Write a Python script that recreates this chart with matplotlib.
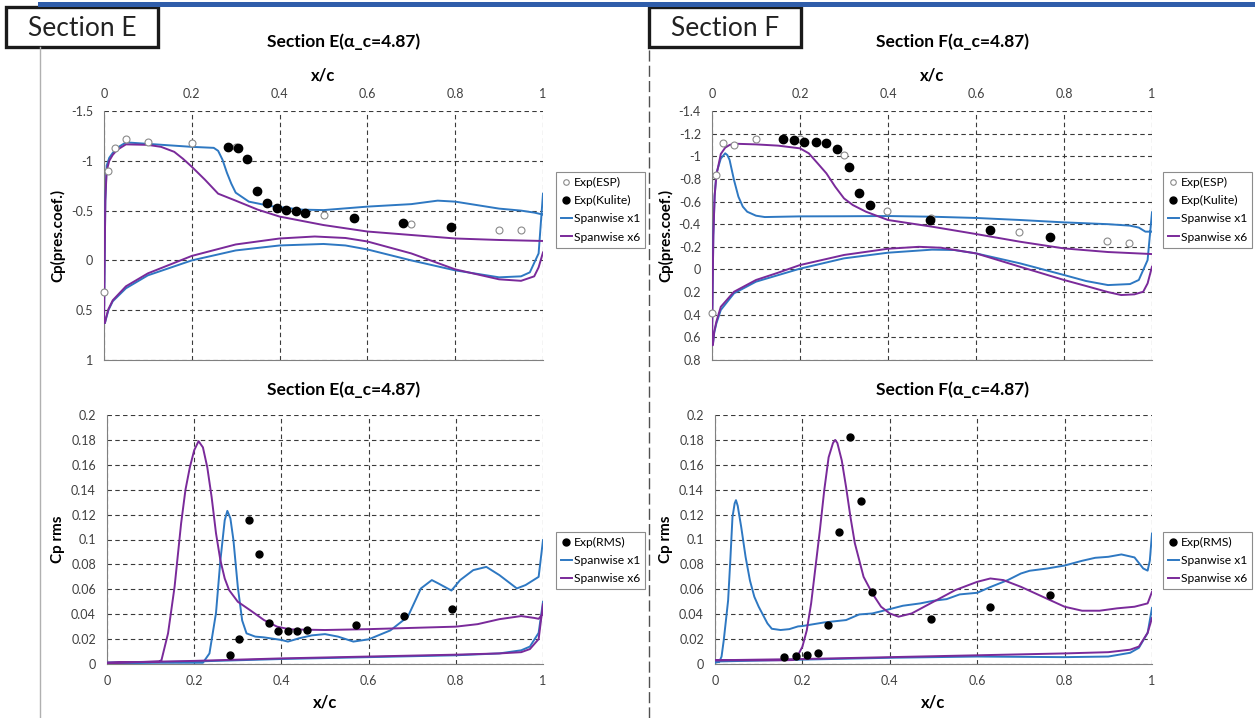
import numpy as np
import matplotlib
matplotlib.use("Agg")
import matplotlib.pyplot as plt
from matplotlib.patches import Rectangle
from matplotlib.lines import Line2D

plt.rcParams['font.family'] = ['Lato', 'DejaVu Sans']

# ---------------- Section E : mean Cp ----------------
esp_x_E = [0, 0.01, 0.025, 0.049, 0.1, 0.2, 0.3, 0.5, 0.7, 0.9, 0.95]
esp_cp_E = [0.32, -0.90, -1.13, -1.215, -1.19, -1.175, -1.14, -0.46, -0.37, -0.31, -0.305]
kul_x_E = [0.2825, 0.3045, 0.3265, 0.3485, 0.3705, 0.393, 0.4146, 0.4366, 0.4586, 0.570, 0.681, 0.791]
kul_cp_E = [-1.14, -1.13, -1.015, -0.70, -0.573, -0.53, -0.506, -0.496, -0.479, -0.426, -0.379, -0.332]

x1_up_x_E = [0, 0.001, 0.003, 0.006, 0.012, 0.02, 0.03, 0.05, 0.1, 0.15, 0.2, 0.25, 0.26, 0.27,
             0.28, 0.29, 0.30, 0.33, 0.38, 0.45, 0.5, 0.6, 0.7, 0.76, 0.8, 0.9, 0.95, 0.98, 1.0]
x1_up_cp_E = [0.62, 0.2, -0.6, -0.95, -1.03, -1.08, -1.13, -1.185, -1.17, -1.155, -1.14, -1.13, -1.1, -1.01,
              -0.88, -0.77, -0.68, -0.59, -0.545, -0.51, -0.505, -0.54, -0.565, -0.6, -0.59, -0.52, -0.5, -0.48, -0.46]
x1_lo_x_E = [0, 0.002, 0.005, 0.01, 0.02, 0.05, 0.1, 0.2, 0.3, 0.4, 0.5, 0.55, 0.6, 0.7, 0.8, 0.9,
             0.95, 0.97, 0.99, 1.0]
x1_lo_cp_E = [0.62, 0.63, 0.58, 0.5, 0.41, 0.28, 0.15, 0.0, -0.10, -0.15, -0.165, -0.15, -0.11, 0.0,
              0.10, 0.17, 0.16, 0.12, -0.07, -0.67]
x6_up_x_E = [0, 0.001, 0.003, 0.006, 0.012, 0.02, 0.03, 0.05, 0.1, 0.13, 0.16, 0.18, 0.2, 0.23, 0.26,
             0.3, 0.35, 0.4, 0.5, 0.6, 0.7, 0.8, 0.9, 1.0]
x6_up_cp_E = [0.62, 0.2, -0.6, -0.9, -1.0, -1.06, -1.11, -1.165, -1.16, -1.14, -1.09, -1.02, -0.94, -0.81,
              -0.67, -0.6, -0.51, -0.44, -0.355, -0.29, -0.255, -0.22, -0.205, -0.195]
x6_lo_x_E = [0, 0.002, 0.005, 0.01, 0.02, 0.05, 0.1, 0.2, 0.3, 0.4, 0.48, 0.55, 0.6, 0.7, 0.8, 0.9,
             0.95, 0.98, 0.99, 1.0]
x6_lo_cp_E = [0.62, 0.63, 0.57, 0.49, 0.40, 0.26, 0.13, -0.045, -0.16, -0.22, -0.24, -0.225, -0.19,
              -0.07, 0.09, 0.19, 0.205, 0.16, 0.07, -0.08]

# ---------------- Section F : mean Cp ----------------
esp_x_F = [0, 0.0098, 0.025, 0.05, 0.099, 0.199, 0.299, 0.398, 0.4985, 0.698, 0.898, 0.948]
esp_cp_F = [0.388, -0.834, -1.12, -1.097, -1.153, -1.15, -1.008, -0.516, -0.457, -0.33, -0.251, -0.234]
kul_x_F = [0.161, 0.186, 0.21, 0.2356, 0.26, 0.285, 0.3106, 0.335, 0.3591, 0.4955, 0.632, 0.768]
kul_cp_F = [-1.15, -1.14, -1.126, -1.123, -1.114, -1.061, -0.902, -0.675, -0.569, -0.437, -0.351, -0.287]

x1_up_x_F = [0, 0.001, 0.003, 0.006, 0.01, 0.02, 0.03, 0.035, 0.04, 0.05, 0.06, 0.07, 0.08, 0.1, 0.12,
             0.2, 0.3, 0.4, 0.5, 0.6, 0.7, 0.8, 0.9, 0.95, 0.97, 0.985, 1.0]
x1_up_cp_F = [0.65, 0.3, -0.3, -0.65, -0.85, -0.98, -1.026, -1.01, -0.967, -0.79, -0.643, -0.555, -0.51,
              -0.475, -0.463, -0.469, -0.47, -0.472, -0.466, -0.455, -0.437, -0.416, -0.4, -0.387, -0.37,
              -0.334, -0.334]
x1_lo_x_F = [0, 0.002, 0.005, 0.01, 0.02, 0.05, 0.1, 0.2, 0.3, 0.4, 0.5, 0.55, 0.6, 0.7, 0.8, 0.85,
             0.9, 0.95, 0.97, 0.99, 1.0]
x1_lo_cp_F = [0.65, 0.66, 0.56, 0.476, 0.358, 0.211, 0.108, -0.007, -0.098, -0.148, -0.175, -0.172,
              -0.142, -0.054, 0.049, 0.102, 0.138, 0.129, 0.093, -0.083, -0.505]
x6_up_x_F = [0, 0.001, 0.003, 0.006, 0.01, 0.02, 0.03, 0.04, 0.05, 0.1, 0.15, 0.2, 0.22, 0.24, 0.26,
             0.28, 0.3, 0.32, 0.35, 0.4, 0.5, 0.6, 0.7, 0.8, 0.9, 1.0]
x6_up_cp_F = [0.66, 0.3, -0.3, -0.65, -0.834, -1.02, -1.076, -1.1, -1.111, -1.105, -1.094, -1.07,
              -1.026, -0.938, -0.849, -0.731, -0.628, -0.569, -0.51, -0.437, -0.378, -0.313, -0.245,
              -0.186, -0.154, -0.136]
x6_lo_x_F = [0, 0.002, 0.005, 0.01, 0.02, 0.05, 0.1, 0.15, 0.2, 0.3, 0.4, 0.47, 0.52, 0.6, 0.7, 0.8,
             0.85, 0.9, 0.93, 0.96, 0.98, 0.99, 1.0]
x6_lo_cp_F = [0.66, 0.67, 0.55, 0.46, 0.33, 0.197, 0.093, 0.029, -0.039, -0.128, -0.183, -0.2, -0.192,
              -0.142, -0.024, 0.093, 0.146, 0.2, 0.226, 0.22, 0.197, 0.123, -0.024]

# ---------------- Section E : Cp rms ----------------
rms_x_E = [0.282, 0.303, 0.326, 0.348, 0.3705, 0.392, 0.414, 0.436, 0.458, 0.571, 0.681, 0.791]
rms_E = [0.0070, 0.020, 0.1155, 0.0885, 0.0326, 0.0265, 0.0265, 0.0267, 0.0275, 0.031, 0.0385, 0.0439]

r1_up_x_E = [0, 0.1, 0.2, 0.22, 0.235, 0.25, 0.26, 0.27, 0.276, 0.283, 0.29, 0.30, 0.31, 0.32, 0.34,
             0.36, 0.4, 0.415, 0.44, 0.47, 0.5, 0.53, 0.565, 0.6, 0.65, 0.69, 0.72, 0.745, 0.76, 0.79,
             0.81, 0.84, 0.87, 0.9, 0.94, 0.96, 0.99, 1.0]
r1_up_E = [0.001, 0.001, 0.001, 0.001, 0.0085, 0.041, 0.083, 0.1155, 0.123, 0.117, 0.0995, 0.062,
           0.035, 0.0246, 0.022, 0.0214, 0.0193, 0.018, 0.0206, 0.023, 0.024, 0.022, 0.018, 0.0198,
           0.027, 0.038, 0.0607, 0.0674, 0.0647, 0.059, 0.0674, 0.0754, 0.078, 0.0714, 0.0607, 0.0634,
           0.07, 0.0995]
r1_lo_x_E = [0, 0.2, 0.4, 0.6, 0.8, 0.9, 0.95, 0.97, 0.99, 1.0]
r1_lo_E = [0.001, 0.002, 0.004, 0.0055, 0.007, 0.0085, 0.011, 0.014, 0.025, 0.05]
r6_up_x_E = [0, 0.12, 0.125, 0.14, 0.155, 0.17, 0.18, 0.19, 0.2, 0.21, 0.22, 0.23, 0.24, 0.25, 0.26,
             0.27, 0.28, 0.3, 0.33, 0.36, 0.39, 0.42, 0.5, 0.6, 0.7, 0.8, 0.85, 0.9, 0.95, 0.98, 0.99, 1.0]
r6_up_E = [0.001, 0.002, 0.0032, 0.0246, 0.062, 0.113, 0.14, 0.158, 0.1717, 0.179, 0.174, 0.158,
           0.134, 0.105, 0.0834, 0.0687, 0.0594, 0.05, 0.0428, 0.0353, 0.03, 0.0278, 0.0273, 0.028,
           0.029, 0.030, 0.032, 0.036, 0.0385, 0.037, 0.0363, 0.0406]
r6_lo_x_E = [0, 0.2, 0.4, 0.6, 0.8, 0.9, 0.95, 0.97, 0.99, 1.0]
r6_lo_E = [0.001, 0.0025, 0.0045, 0.006, 0.0075, 0.0085, 0.0095, 0.012, 0.02, 0.048]

# ---------------- Section F : Cp rms ----------------
rms_x_F = [0.159, 0.185, 0.21, 0.235, 0.259, 0.2845, 0.309, 0.334, 0.3585, 0.494, 0.63, 0.767]
rms_F = [0.0059, 0.0064, 0.007, 0.0088, 0.031, 0.1064, 0.1824, 0.131, 0.0578, 0.0364, 0.0457, 0.0551]

r1_up_x_F = [0, 0.01, 0.015, 0.02, 0.03, 0.035, 0.04, 0.045, 0.048, 0.052, 0.06, 0.07, 0.08, 0.09,
             0.1, 0.12, 0.13, 0.15, 0.17, 0.19, 0.2, 0.25, 0.3, 0.33, 0.36, 0.4, 0.43, 0.47, 0.5, 0.53,
             0.56, 0.6, 0.63, 0.67, 0.7, 0.72, 0.76, 0.8, 0.84, 0.87, 0.9, 0.93, 0.96, 0.98, 0.99,
             0.995, 1.0]
r1_up_F = [0.001, 0.0019, 0.006, 0.019, 0.051, 0.083, 0.118, 0.129, 0.1316, 0.127, 0.11, 0.086, 0.067,
           0.054, 0.046, 0.0326, 0.0283, 0.0273, 0.028, 0.0302, 0.0305, 0.0334, 0.0353, 0.0398, 0.0406,
           0.0441, 0.0468, 0.0487, 0.0508, 0.0521, 0.0559, 0.0572, 0.0618, 0.0674, 0.0727, 0.0749,
           0.0767, 0.0791, 0.0829, 0.0853, 0.0861, 0.088, 0.0856, 0.0767, 0.075, 0.083, 0.1048]
r1_lo_x_F = [0, 0.2, 0.4, 0.6, 0.8, 0.9, 0.95, 0.97, 0.99, 1.0]
r1_lo_F = [0.002, 0.0035, 0.005, 0.006, 0.0055, 0.006, 0.009, 0.013, 0.025, 0.045]
r6_up_x_F = [0, 0.16, 0.18, 0.19, 0.2, 0.21, 0.22, 0.23, 0.24, 0.25, 0.26, 0.27, 0.275, 0.28, 0.29,
             0.3, 0.31, 0.32, 0.34, 0.36, 0.38, 0.4, 0.42, 0.45, 0.5, 0.55, 0.6, 0.63, 0.66, 0.7, 0.75,
             0.8, 0.84, 0.88, 0.92, 0.96, 0.99, 1.0]
r6_up_F = [0.003, 0.003, 0.0032, 0.0072, 0.0139, 0.027, 0.0487, 0.078, 0.1075, 0.1396, 0.166, 0.1775,
           0.18, 0.1775, 0.1636, 0.142, 0.118, 0.097, 0.07, 0.0567, 0.046, 0.0406, 0.038, 0.0406, 0.05,
           0.0594, 0.066, 0.0687, 0.0674, 0.062, 0.054, 0.046, 0.0428, 0.0428, 0.0447, 0.046, 0.0487,
           0.058]
r6_lo_x_F = [0, 0.2, 0.4, 0.6, 0.8, 0.9, 0.95, 0.97, 0.99, 1.0]
r6_lo_F = [0.003, 0.004, 0.0055, 0.007, 0.0085, 0.0095, 0.0115, 0.014, 0.025, 0.037]

x_ticks = [0, 0.2, 0.4, 0.6, 0.8, 1.0]
cp_ticks_E = [-1.5, -1, -0.5, 0, 0.5, 1]
cp_ticks_F = [-1.4, -1.2, -1, -0.8, -0.6, -0.4, -0.2, 0, 0.2, 0.4, 0.6, 0.8]
rms_ticks = [0, 0.02, 0.04, 0.06, 0.08, 0.1, 0.12, 0.14, 0.16, 0.18, 0.2]

BLUE = '#2E78C2'
PURPLE = '#7A2A9A'
W, H = 1255, 718


def fmt(v):
    return f"{v:g}"


def px_axes(fig, x0, y0, x1, y1):
    return fig.add_axes([x0 / W, 1 - y1 / H, (x1 - x0) / W, (y1 - y0) / H])


def style(ax, yticks, top):
    ax.set_xlim(0, 1)
    ax.set_xticks(x_ticks)
    ax.set_xticklabels([fmt(t) for t in x_ticks])
    ax.set_yticks(yticks)
    ax.set_yticklabels([fmt(t) for t in yticks])
    ax.tick_params(length=0, labelsize=9, colors='#404040', pad=8)
    ax.grid(True, color='#3a3a3a', linestyle=(0, (4, 3)), linewidth=0.8)
    ax.set_axisbelow(True)
    for s in ['top', 'right']:
        ax.spines[s].set_visible(False)
    for s in ['left', 'bottom']:
        ax.spines[s].set_color('#808080')
        ax.spines[s].set_linewidth(0.8)
    if top:
        ax.xaxis.tick_top()
        ax.xaxis.set_label_position('top')
    ax.set_xlabel('x/c', fontsize=12, fontweight='bold', labelpad=5)


def loop(xu, yu, xl, yl):
    # suction side from trailing edge to leading edge, then pressure side back
    return np.r_[np.array(xu)[::-1], xl], np.r_[np.array(yu)[::-1], yl]


def legend(ax, handles, labels, x0, y0):
    leg = ax.legend(handles, labels, loc='upper left', bbox_to_anchor=(x0 / W, 1 - y0 / H),
                    bbox_transform=ax.figure.transFigure, fontsize=8.7, frameon=True,
                    fancybox=False, edgecolor='#707070', handlelength=0.9, handletextpad=0.15,
                    borderpad=0.4, borderaxespad=0, labelspacing=0.6)
    leg.get_frame().set_linewidth(0.8)


fig = plt.figure(figsize=(W / 100, H / 100), dpi=100)

# slide decorations: blue header rule, separators and section boxes
fig.add_artist(Line2D([40 / W, 1], [1 - 3.5 / H, 1 - 3.5 / H], color='#2F5DAA', lw=3.6))
fig.add_artist(Line2D([40 / W, 40 / W], [0, 1 - 47 / H], color='#b0b0b0', lw=1))
fig.add_artist(Line2D([649 / W, 649 / W], [0, 1 - 47 / H], color='#505050', lw=1,
                      linestyle=(0, (8, 3))))
for bx, name in [(6, 'Section E'), (649, 'Section F')]:
    fig.add_artist(Rectangle((bx / W, 1 - 47 / H), 152 / W, 40 / H, transform=fig.transFigure,
                             facecolor='white', edgecolor='#1a1a1a', lw=2.4))
    fig.text((bx + 76) / W, 1 - 28 / H, name, ha='center', va='center', fontsize=19, color='#222222')

cp_handles = [
    Line2D([], [], marker='o', ls='none', mfc='white', mec='#8a8a8a', ms=4, mew=0.8),
    Line2D([], [], marker='o', ls='none', color='black', ms=5),
    Line2D([], [], color=BLUE, lw=1.4),
    Line2D([], [], color=PURPLE, lw=1.4),
]
cp_labels = ['Exp(ESP)', 'Exp(Kulite)', 'Spanwise x1', 'Spanwise x6']
rms_handles = [Line2D([], [], marker='o', ls='none', color='black', ms=5),
               Line2D([], [], color=BLUE, lw=1.4), Line2D([], [], color=PURPLE, lw=1.4)]
rms_labels = ['Exp(RMS)', 'Spanwise x1', 'Spanwise x6']

panels_cp = [
    (104, 543, 344, 556, 'E', cp_ticks_E, (-1.5, 1),
     esp_x_E, esp_cp_E, kul_x_E, kul_cp_E,
     (x1_up_x_E, x1_up_cp_E, x1_lo_x_E, x1_lo_cp_E), (x6_up_x_E, x6_up_cp_E, x6_lo_x_E, x6_lo_cp_E)),
    (712, 1152, 952, 1163, 'F', cp_ticks_F, (-1.4, 0.8),
     esp_x_F, esp_cp_F, kul_x_F, kul_cp_F,
     (x1_up_x_F, x1_up_cp_F, x1_lo_x_F, x1_lo_cp_F), (x6_up_x_F, x6_up_cp_F, x6_lo_x_F, x6_lo_cp_F)),
]
for (x0, x1, tx, lx, sec, yt, ylim, ex, ey, kx, ky, s1, s6) in panels_cp:
    ax = px_axes(fig, x0, 111, x1, 360)
    style(ax, yt, top=True)
    ax.set_ylim(ylim[1], ylim[0])
    lx1, ly1 = loop(*s1)
    lx6, ly6 = loop(*s6)
    ax.plot(lx1, ly1, color=BLUE, lw=1.4, zorder=3)
    ax.plot(lx6, ly6, color=PURPLE, lw=1.4, zorder=3)
    ax.plot(ex, ey, 'o', mfc='white', mec='#8a8a8a', ms=5, mew=0.8, zorder=4, clip_on=False)
    ax.plot(kx, ky, 'o', color='black', ms=6, zorder=5)
    ax.set_ylabel('Cp(pres.coef.)', fontsize=11, fontweight='bold', labelpad=4)
    fig.text(tx / W, 1 - 42 / H, f'Section {sec}(α_c=4.87)', ha='center', va='center',
             fontsize=12.5, fontweight='bold')
    legend(ax, cp_handles, cp_labels, lx, 172)

panels_rms = [
    (107, 543, 344, 556, 'E', rms_x_E, rms_E,
     (r1_up_x_E, r1_up_E, r1_lo_x_E, r1_lo_E), (r6_up_x_E, r6_up_E, r6_lo_x_E, r6_lo_E)),
    (715, 1152, 952, 1163, 'F', rms_x_F, rms_F,
     (r1_up_x_F, r1_up_F, r1_lo_x_F, r1_lo_F), (r6_up_x_F, r6_up_F, r6_lo_x_F, r6_lo_F)),
]
for (x0, x1, tx, lx, sec, px, py, s1, s6) in panels_rms:
    ax = px_axes(fig, x0, 415, x1, 664)
    style(ax, rms_ticks, top=False)
    ax.set_ylim(0, 0.2)
    lx1, ly1 = loop(*s1)
    lx6, ly6 = loop(*s6)
    ax.plot(lx1, ly1, color=BLUE, lw=1.4, zorder=3)
    ax.plot(lx6, ly6, color=PURPLE, lw=1.4, zorder=3)
    ax.plot(px, py, 'o', color='black', ms=5, zorder=5)
    ax.set_ylabel('Cp rms', fontsize=11, fontweight='bold', labelpad=4)
    fig.text(tx / W, 1 - 390 / H, f'Section {sec}(α_c=4.87)', ha='center', va='center',
             fontsize=12.5, fontweight='bold')
    legend(ax, rms_handles, rms_labels, lx, 532)

fig.savefig('out.png', dpi=100)
